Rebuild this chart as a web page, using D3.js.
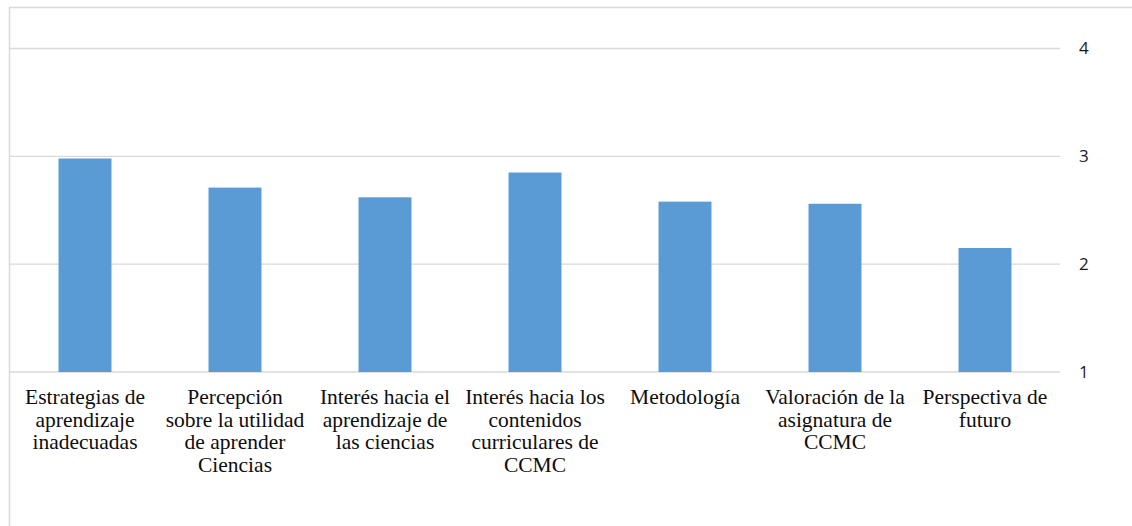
<!DOCTYPE html>
<html>
<head>
<meta charset="utf-8">
<script src="https://cdn.jsdelivr.net/npm/d3@7"></script>
<style>
  body { margin: 0; background: #fff; overflow: hidden; }
</style>
</head>
<body>
<div id="graph"></div>
<script>
// category labels, already broken into lines as in the picture
var categories = [
  ["Estrategias de", "aprendizaje", "inadecuadas"],
  ["Percepción", "sobre la utilidad", "de aprender", "Ciencias"],
  ["Interés hacia el", "aprendizaje de", "las ciencias"],
  ["Interés hacia los", "contenidos", "curriculares de", "CCMC"],
  ["Metodología"],
  ["Valoración de la", "asignatura de", "CCMC"],
  ["Perspectiva de", "futuro"]
];
var values = [2.98, 2.71, 2.62, 2.85, 2.58, 2.56, 2.15];
var yTicks = [1, 2, 3, 4];

var svgWidth = 1132, svgHeight = 526;

var svg = d3.select('#graph')
  .append('svg')
    .attr("width", svgWidth)
    .attr("height", svgHeight)
    .style("display", "block");

// outer chart border: only top and left edges are inside the picture
svg.append("path")
    .attr("d", "M9.5," + svgHeight + "V7.5H" + svgWidth)
    .attr("fill", "none")
    .attr("stroke", "#d9d9d9")
    .attr("stroke-width", 1.5);

var x = d3.scaleBand()
    .domain(d3.range(categories.length))
    .range([10, 1060])
    .paddingInner(0.647)
    .paddingOuter(0.3235);

var y = d3.scaleLinear()
    .domain([1, 4])
    .range([372, 48.5]);

// gridlines
svg.append("g")
  .selectAll("line")
  .data(yTicks)
  .enter().append("line")
    .attr("x1", 10)
    .attr("x2", 1060)
    .attr("y1", function(d) { return y(d) })
    .attr("y2", function(d) { return y(d) })
    .attr("stroke", "#d9d9d9")
    .attr("stroke-width", 1.3);

// right axis labels
var yAxis = d3.axisRight(y)
    .tickValues(yTicks)
    .tickFormat(d3.format("d"))
    .tickSize(0)
    .tickPadding(19);

var ya = svg.append("g")
    .attr("transform", "translate(1060,0)")
    .call(yAxis);
ya.select(".domain").remove();
ya.attr("font-size", null).attr("font-family", null);
ya.selectAll("text")
    .style("font-family", "'Open Sans', 'Liberation Sans', sans-serif")
    .style("font-size", "17px")
    .style("fill", "#1a1a1a");

// bars
svg.append("g")
  .selectAll("rect")
  .data(values)
  .enter().append("rect")
    .attr("x", function(d, i) { return x(i) })
    .attr("y", function(d) { return y(d) })
    .attr("width", x.bandwidth())
    .attr("height", function(d) { return y(1) - y(d) })
    .attr("fill", "#5b9bd5");

// category labels
var lab = svg.append("g")
  .selectAll("text")
  .data(categories)
  .enter().append("text")
    .attr("x", function(d, i) { return x(i) + x.bandwidth() / 2 })
    .attr("y", 404)
    .attr("text-anchor", "middle")
    .style("font-family", "'Liberation Serif', 'Times New Roman', serif")
    .style("font-size", "21.5px")
    .style("fill", "#0d0d0d");

lab.selectAll("tspan")
  .data(function(d) { return d })
  .enter().append("tspan")
    .attr("x", function() { return d3.select(this.parentNode).attr("x") })
    .attr("dy", function(d, i) { return i === 0 ? 0 : 22.7 })
    .text(function(d) { return d });
</script>
</body>
</html>
